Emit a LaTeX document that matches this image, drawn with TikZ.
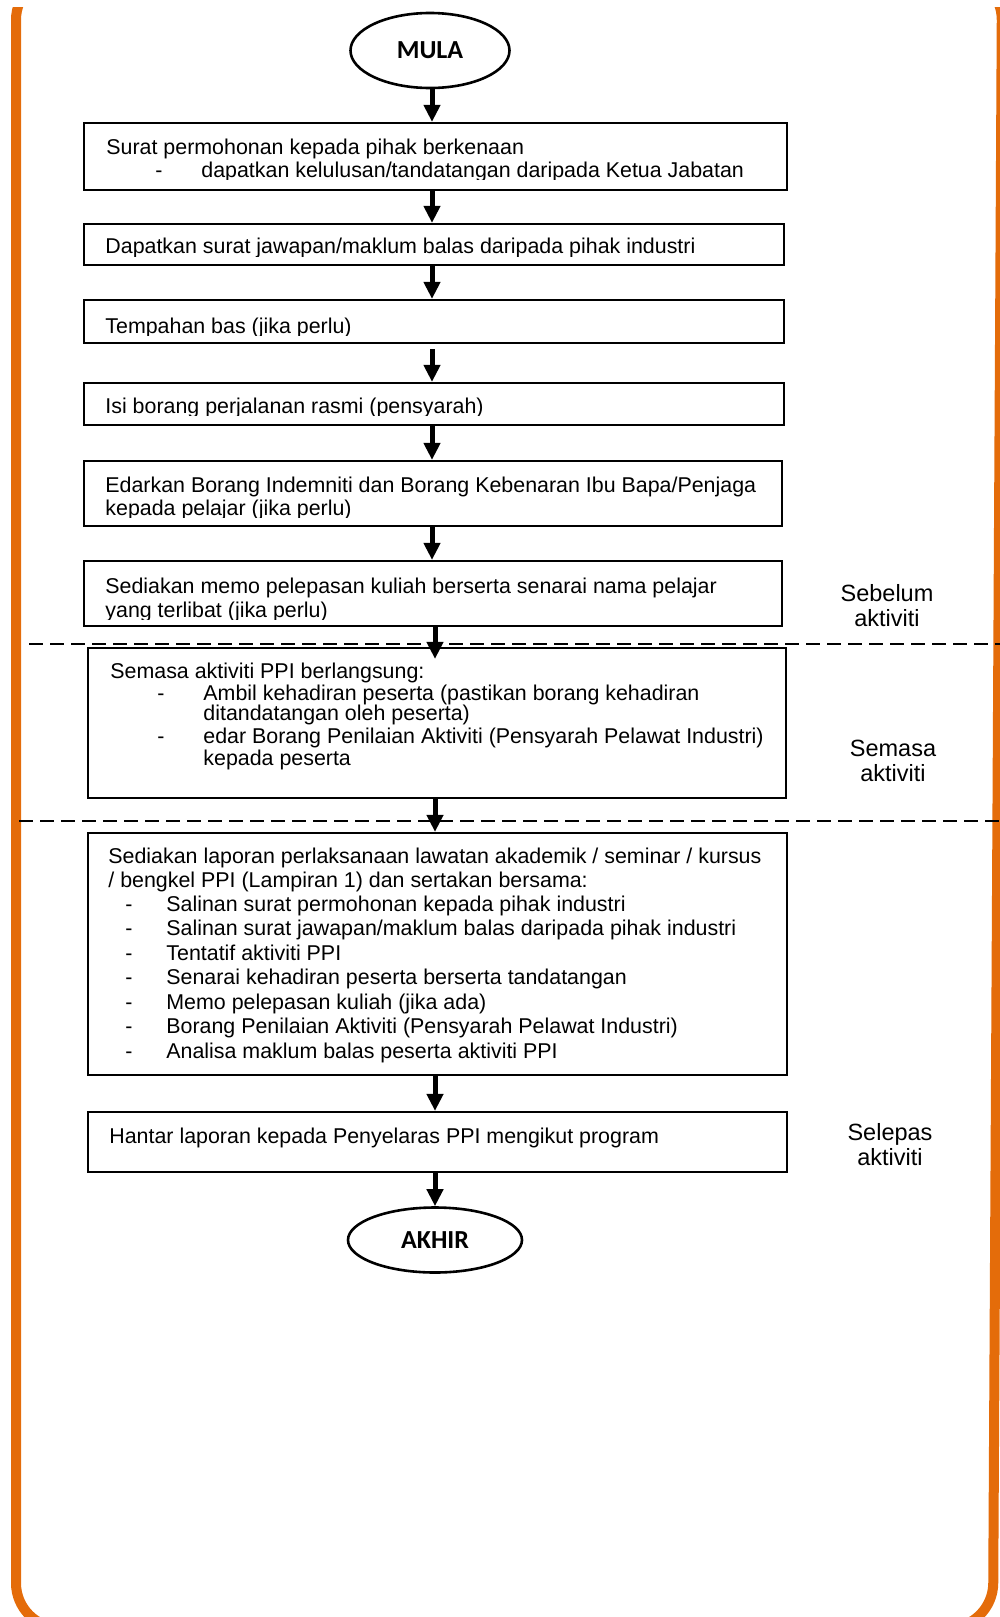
\documentclass[tikz,border=0pt]{standalone}
\usepackage{fontspec}
\setmainfont{Liberation Sans}
\newfontfamily\calfont{Carlito}
\usetikzlibrary{shapes.geometric,arrows.meta,fit}
\definecolor{borderorange}{RGB}{228,108,10}
\begin{document}
\begin{tikzpicture}[x=0.5pt,y=-0.5pt,
  box/.style={draw=black, line width=1.1pt, inner sep=0pt, rectangle},
  ell/.style={ellipse, draw=black, line width=1.3pt, inner sep=0pt, font=\calfont\bfseries\fontsize{13pt}{15pt}\selectfont},
  tx/.style={anchor=base west, inner sep=0pt, font=\fontsize{10.7pt}{12pt}\selectfont},
  side/.style={anchor=base, inner sep=0pt, font=\fontsize{11.75pt}{13pt}\selectfont},
  flow/.style={-{Triangle[width=8pt,length=8.5pt]}, line width=2.5pt},
  sep/.style={dash pattern=on 7pt off 3.5pt, line width=1pt},
  frame/.style={draw=borderorange, line width=5pt, rounded corners=22.5pt}
]
\useasboundingbox (0,0) rectangle (1000,1617);

% orange frame
\begin{scope}
  \clip (0,7) rectangle (1000,1617);
  \draw[frame] (16,-25) -- (16,1628) -- (993,1628) -- (1002,-25) -- cycle;
\end{scope}

% axes for connectors
\coordinate (axu) at (432,0);
\coordinate (axl) at (435,0);

% dashed separators
\coordinate (d1l) at (29,644);
\coordinate (d1r) at (1000,644);
\coordinate (d2l) at (19,821);
\coordinate (d2r) at (1000,821);
\draw[sep] (d1l) -- (d1r);
\draw[sep] (d2l) -- (d2r);

% terminals
\node[ell, minimum width=79.5pt, minimum height=37.5pt] (mula) at (430,50.5) {MULA};
\node[ell, minimum width=87pt, minimum height=32.5pt] (akhir) at (435,1240) {AKHIR};

% boxes
\node[box, fit={(84,123) (787,190)}] (b1) {};
\node[box, fit={(84,224) (784,265)}] (b2) {};
\node[box, fit={(84,300) (784,343)}] (b3) {};
\node[box, fit={(84,383) (784,425)}] (b4) {};
\node[box, fit={(84,461) (782,526)}] (b5) {};
\node[box, fit={(84,561) (782,626)}] (b6) {};
\node[box, fit={(88,648) (786,798)}] (b7) {};
\node[box, fit={(88,833) (787,1075)}] (b8) {};
\node[box, fit={(88,1112) (787,1172)}] (b9) {};

% box texts (last lines clipped as in the reference)
\begin{scope}
  \clip (84,123) rectangle (787,179);
  \node[tx] (t1a) at (106,154) {Surat permohonan kepada pihak berkenaan};
  \node[tx] (t1b) at (155,177) {-};
  \node[tx] (t1c) at (201,177) {dapatkan kelulusan/tandatangan daripada Ketua Jabatan};
\end{scope}
\begin{scope}
  \clip (84,224) rectangle (784,256);
  \node[tx] (t2) at (105,253) {Dapatkan surat jawapan/maklum balas daripada pihak industri};
\end{scope}
\begin{scope}
  \clip (84,300) rectangle (784,335.5);
  \node[tx] (t3) at (105,333) {Tempahan bas (jika perlu)};
\end{scope}
\begin{scope}
  \clip (84,383) rectangle (784,415);
  \node[tx] (t4) at (105,413) {Isi borang perjalanan rasmi (pensyarah)};
\end{scope}
\begin{scope}
  \clip (84,461) rectangle (782,517.5);
  \node[tx] (t5a) at (105,492) {Edarkan Borang Indemniti dan Borang Kebenaran Ibu Bapa/Penjaga};
  \node[tx] (t5b) at (105,515) {kepada pelajar (jika perlu)};
\end{scope}
\begin{scope}
  \clip (84,561) rectangle (782,619);
  \node[tx] (t6a) at (105,593) {Sediakan memo pelepasan kuliah berserta senarai nama pelajar};
  \node[tx] (t6b) at (105,617) {yang terlibat (jika perlu)};
\end{scope}

\node[tx] (t7a) at (110,678) {Semasa aktiviti PPI berlangsung:};
\node[tx] (t7b) at (157,700) {-};
\node[tx] (t7c) at (203,700) {Ambil kehadiran peserta (pastikan borang kehadiran};
\node[tx] (t7d) at (203,720) {ditandatangan oleh peserta)};
\node[tx] (t7e) at (157,743) {-};
\node[tx] (t7f) at (203,743) {edar Borang Penilaian Aktiviti (Pensyarah Pelawat Industri)};
\node[tx] (t7g) at (203,765) {kepada peserta};

\node[tx] (t8a) at (108,863) {Sediakan laporan perlaksanaan lawatan akademik / seminar / kursus};
\node[tx] (t8b) at (108,887) {/ bengkel PPI (Lampiran 1) dan sertakan bersama:};
\node[tx] (t8c) at (125,911) {-};
\node[tx] (t8d) at (166,911) {Salinan surat permohonan kepada pihak industri};
\node[tx] (t8e) at (125,935.5) {-};
\node[tx] (t8f) at (166,935.5) {Salinan surat jawapan/maklum balas daripada pihak industri};
\node[tx] (t8g) at (125,960) {-};
\node[tx] (t8h) at (166,960) {Tentatif aktiviti PPI};
\node[tx] (t8i) at (125,984.5) {-};
\node[tx] (t8j) at (166,984.5) {Senarai kehadiran peserta berserta tandatangan};
\node[tx] (t8k) at (125,1009) {-};
\node[tx] (t8l) at (166,1009) {Memo pelepasan kuliah (jika ada)};
\node[tx] (t8m) at (125,1033.5) {-};
\node[tx] (t8n) at (166,1033.5) {Borang Penilaian Aktiviti (Pensyarah Pelawat Industri)};
\node[tx] (t8o) at (125,1058) {-};
\node[tx] (t8p) at (166,1058) {Analisa maklum balas peserta aktiviti PPI};

\node[tx] (t9) at (109,1143) {Hantar laporan kepada Penyelaras PPI mengikut program};

% side labels
\node[side] (s1a) at (887,601) {Sebelum};
\node[side] (s1b) at (887,626) {aktiviti};
\node[side] (s2a) at (893,756) {Semasa};
\node[side] (s2b) at (893,781) {aktiviti};
\node[side] (s3a) at (890,1140) {Selepas};
\node[side] (s3b) at (890,1165) {aktiviti};

% connectors
\draw[flow] (mula.south -| axu) -- (b1.north -| axu);
\draw[flow] (b1.south -| axu) -- (b2.north -| axu);
\draw[flow] (b2.south -| axu) -- (b3.north -| axu);
\draw[flow] ([yshift=-2.5pt]b3.south -| axu) -- (b4.north -| axu);
\draw[flow] (b4.south -| axu) -- (b5.north -| axu);
\draw[flow] (b5.south -| axu) -- (b6.north -| axu);
\draw[flow] (b6.south -| axl) -- ([yshift=-6pt]b7.north -| axl);
\draw[flow] (b7.south -| axl) -- (b8.north -| axl);
\draw[flow] (b8.south -| axl) -- (b9.north -| axl);
\draw[flow] (b9.south -| axl) -- (akhir.north -| axl);
\end{tikzpicture}
\end{document}
